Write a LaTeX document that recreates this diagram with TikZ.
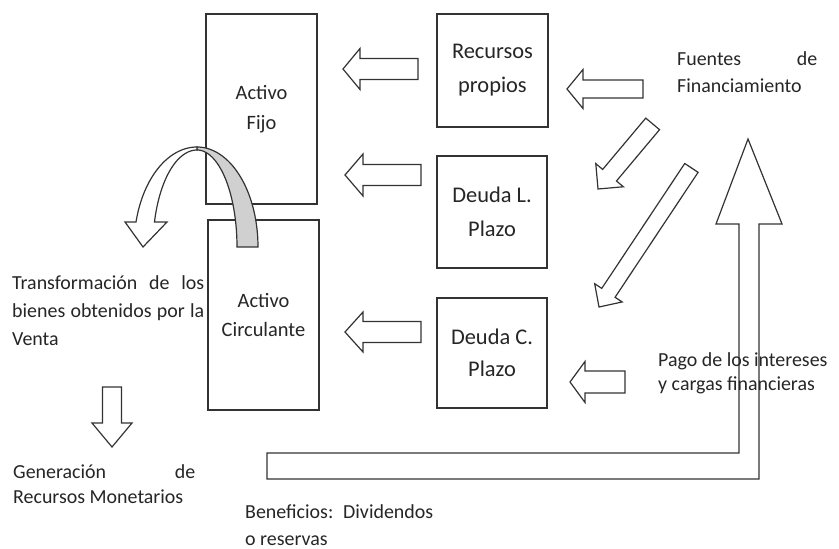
\documentclass[tikz,border=0pt]{standalone}
\usepackage{fontspec}
\setmainfont{Carlito}
\definecolor{ln}{HTML}{333333}
\definecolor{band}{HTML}{D0D0D0}
% block arrow: tip x, tip y, angle, length, shaft half, head half, head length
\newcommand\BArrow[7]{%
  \begin{scope}[shift={(#1,#2)},rotate=#3]
    \draw[blockarrow] (0,0) -- (-#7,#6) -- (-#7,#5) -- (-#4,#5) -- (-#4,-#5) -- (-#7,-#5) -- (-#7,-#6) -- cycle;
  \end{scope}}
\begin{document}
\begin{tikzpicture}[x=1bp,y=-1bp,
  box/.style={draw=ln,line width=1.3bp,inner sep=0pt,align=center,text=black!85},
  blockarrow/.style={draw=ln,line width=1.2bp,fill=white,line join=miter},
  lbl/.style={anchor=base west,align=left,inner sep=0pt,text=black!85}]
\useasboundingbox (0,0) rectangle (839,549);
\fill[white] (0,0) rectangle (839,549);

% boxes
\node[box,minimum width=111bp,minimum height=190bp,font=\fontsize{20.5}{29.5}\selectfont] (af) at (261.5,109) {Activo\\Fijo};
\node[box,minimum width=111bp,minimum height=190bp,font=\fontsize{20.5}{30}\selectfont] (ac) at (263.5,315) {Activo\\Circulante};
\node[box,minimum width=111bp,minimum height=113bp,font=\fontsize{22.5}{34}\selectfont] (rp) at (492.5,70.5) {Recursos\\propios};
\node[box,minimum width=110bp,minimum height=112bp,font=\fontsize{22.5}{34}\selectfont] (dl) at (492,212) {Deuda L.\\Plazo};
\node[box,minimum width=110bp,minimum height=110bp,font=\fontsize{22.5}{32}\selectfont] (dc) at (492,353) {Deuda C.\\Plazo};

% straight block arrows
\BArrow{343}{69}{180}{75}{10.5}{20.5}{17}
\BArrow{345}{175}{180}{76}{10.5}{21}{18}
\BArrow{345}{332}{180}{76}{10.5}{20}{18}
\BArrow{567}{89}{180}{76}{9}{19.5}{16}
\BArrow{570}{382}{180}{55}{11}{20.5}{15}
\BArrow{112}{447}{270}{60}{9.5}{20}{24}
\BArrow{598}{189}{230}{85}{9}{18}{18}
\BArrow{599}{307}{236.4}{167}{8}{16.5}{17}

% bent up arrow
\draw[blockarrow,fill=none] (748,139) -- (782,224) -- (759,224) -- (759,479) -- (267,479)
  -- (267,453) -- (739,453) -- (739,224) -- (716,224) -- cycle;

% curved arrow
\draw[blockarrow,fill=band] plot[domain=90:0,samples=40] ({197+61*cos(\x)},{247-100*sin(\x)})
  -- (237,247) -- plot[domain=0:90,samples=40] ({197+40*cos(\x)},{247-97*sin(\x)}) -- cycle;
\draw[blockarrow] plot[domain=90:165.5,samples=40] ({197+63*cos(\x)},{247-100*sin(\x)})
  -- (125,222) -- (143,247) -- (167,222) -- (154.5,222)
  -- plot[domain=165:90,samples=40] ({197+44*cos(\x)},{247-97*sin(\x)}) -- cycle;

% labels (anchor = baseline of last line)
\node[lbl,font=\fontsize{20}{28}\selectfont] (fuentes) at (677,93) {\hbox to 140bp{Fuentes de}\\Financiamiento};
\node[lbl,font=\fontsize{20}{28}\selectfont] (transf) at (12,345) {\hbox to 192bp{Transformación de los}\\\hbox to 192bp{bienes obtenidos por la}\\Venta};
\node[lbl,font=\fontsize{20}{25}\selectfont] (gen) at (13,503) {\hbox to 182bp{Generación de}\\Recursos Monetarios};
\node[lbl,font=\fontsize{20}{24}\selectfont] (pago) at (658,390) {Pago de los intereses\\y cargas financieras};
\node[lbl,font=\fontsize{20}{27}\selectfont] (benef) at (245,545) {\hbox to 188bp{Beneficios: Dividendos}\\o reservas};
\end{tikzpicture}
\end{document}
